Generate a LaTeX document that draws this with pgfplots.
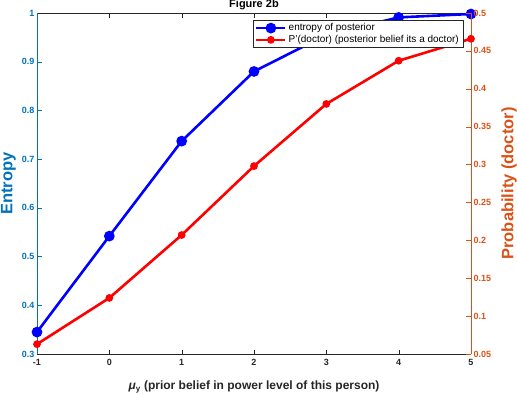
\documentclass[border=0pt]{standalone}
\usepackage{fontspec}
\setmainfont{Liberation Sans}
\usepackage{pgfplots}
\pgfplotsset{compat=1.18}
\definecolor{leftc}{rgb}{0,0.447,0.741}
\definecolor{rightc}{rgb}{0.85,0.325,0.098}
\definecolor{axgray}{rgb}{0.15,0.15,0.15}
\begin{document}
\begin{tikzpicture}
\useasboundingbox (-37pt,-40pt) rectangle (480pt,354pt);
\begin{axis}[
  scale only axis, width=434pt, height=341pt,
  xmin=-1, xmax=5, ymin=0.3, ymax=1,
  xtick={-1,0,1,2,3,4,5},
  ytick={0.3,0.4,0.5,0.6,0.7,0.8,0.9,1},
  axis x line=box, axis y line=left,
  x axis line style={axgray, -},
  y axis line style={leftc, -},
  tick align=inside,
  major tick length=4.5pt,
  xtick style={axgray},
  ytick style={leftc},
  /pgf/number format/assume math mode=true,
  /pgf/number format/fixed,
  ticklabel style={font=\bfseries\fontsize{9}{10}\selectfont},
  xticklabel style={axgray, yshift=-2pt},
  yticklabel style={leftc, xshift=1pt},
  xlabel={\textit{μ}\textsubscript{y} (prior belief in power level of this person)},
  xlabel style={font=\bfseries\fontsize{12}{13}\selectfont, axgray,
    at={(axis description cs:0.5,0)}, anchor=center, yshift=-33pt},
  ylabel={Entropy},
  ylabel style={font=\bfseries\fontsize{16.5}{18}\selectfont, leftc,
    at={(axis description cs:-0.0657,0.5)}, anchor=center},
  every axis title shift=0pt,
  title={Figure 2b},
  title style={font=\bfseries\fontsize{11}{12}\selectfont, inner sep=1pt, yshift=1.6pt},
]
\addplot[blue, line width=2.6pt, mark=*, mark size=4pt] coordinates {
(-1,0.345) (0,0.542) (1,0.737) (2,0.880) (3,0.955) (4,0.991) (5,0.998)
};
\end{axis}
\begin{axis}[
  scale only axis, width=434pt, height=341pt,
  xmin=-1, xmax=5, ymin=0.05, ymax=0.5,
  axis x line=none, axis y line*=right,
  ytick={0.05,0.1,0.15,0.2,0.25,0.3,0.35,0.4,0.45,0.5},
  y axis line style={rightc, -},
  tick align=inside,
  major tick length=4.5pt,
  ytick style={rightc},
  /pgf/number format/assume math mode=true,
  /pgf/number format/fixed,
  ticklabel style={font=\bfseries\fontsize{9}{10}\selectfont},
  yticklabel style={rightc, xshift=-1pt},
  ylabel={Probability (doctor)},
  ylabel style={font=\bfseries\fontsize{16.5}{18}\selectfont, rightc,
    at={(axis description cs:1.0876,0.5)}, anchor=center},
  legend style={at={(rel axis cs:0.9816,0.9795)}, anchor=north east,
    font=\fontsize{10}{10.5}\selectfont, draw=axgray, line width=0.5pt,
    inner xsep=2pt, inner ysep=1.5pt, row sep=-1pt},
  legend cell align=left,
  legend image code/.code={\draw[#1] (0pt,0pt) -- (29pt,0pt); \draw[#1, mark repeat=1] plot coordinates {(14.5pt,0pt)};},
]
\addlegendimage{blue, line width=2.6pt, mark=*, mark size=4pt}
\addlegendentry{entropy of posterior}
\addplot[red, line width=2.6pt, mark=*, mark size=2.5pt] coordinates {
(-1,0.063) (0,0.124) (1,0.207) (2,0.298) (3,0.380) (4,0.437) (5,0.466)
};
\addlegendentry{P'(doctor) (posterior belief its a doctor)}
\end{axis}
\end{tikzpicture}
\end{document}
